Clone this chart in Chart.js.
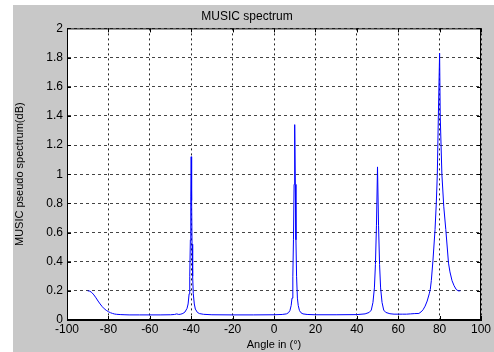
<!DOCTYPE html>
<html>
<head>
<meta charset="utf-8">
<script src="https://cdn.jsdelivr.net/npm/chart.js@4.4.0/dist/chart.umd.min.js"></script>
<style>
  html, body { margin: 0; padding: 0; background: #ffffff; }
  #wrap { position: absolute; left: 13px; top: 5px; width: 481px; height: 347px; background: #c8c8c8; }
</style>
</head>
<body>
<div id="wrap"><canvas id="c"></canvas></div>
<script>
Chart.defaults.font.family = "'Liberation Sans', Arial, sans-serif";
Chart.defaults.font.size = 11;
Chart.defaults.color = "#000";

// angle (deg) and pseudo spectrum
const angles = [
  -90, -89, -88, -87, -86, -85, -84, -83, -82, -81, -80, -79, -78, -77, -76, -74, -72, -70,
  -65, -60, -55, -50, -48, -47, -46, -45, -44, -43, -42, -41.5, -41, -40.7, -40.4, -40.2,
  -40, -39.8, -39.6, -39.3, -39, -38.5, -38, -37, -36, -34, -30, -20, -10, 0,
  4, 6, 7, 7.7, 8.3, 8.7, 9.1, 9.4, 9.7, 10, 10.3, 10.6, 10.9, 11.3, 11.7, 12.3, 13, 14, 16,
  20, 30, 40, 44, 46, 47, 47.8, 48.5, 49, 49.5, 50, 50.5, 51, 51.5, 52.2, 53, 54, 56, 58,
  60, 62, 64, 66, 68, 70, 71, 72, 73, 74, 75, 75.5, 76, 76.8, 77.8, 78.4, 78.9, 79.4, 80,
  80.3, 81.1, 82, 83, 84.3, 85, 86, 87, 88, 89, 90
];
const spectrum = [
  0.200, 0.198, 0.188, 0.172, 0.152, 0.130, 0.110, 0.092, 0.077, 0.066, 0.057, 0.050, 0.045, 0.041, 0.039, 0.037, 0.036, 0.035,
  0.035, 0.035, 0.035, 0.036, 0.038, 0.042, 0.038, 0.040, 0.045, 0.055, 0.080, 0.11, 0.18, 0.30, 0.55, 0.85,
  1.12, 0.82, 0.52, 0.30, 0.18, 0.11, 0.075, 0.052, 0.044, 0.039, 0.036, 0.035, 0.035, 0.036,
  0.038, 0.042, 0.050, 0.065, 0.10, 0.15, 0.30, 0.55, 0.93, 1.34, 0.93, 0.55, 0.30, 0.15, 0.10, 0.065, 0.050, 0.042, 0.038,
  0.036, 0.036, 0.037, 0.042, 0.052, 0.068, 0.12, 0.22, 0.38, 0.65, 1.05, 0.65, 0.38, 0.22, 0.12, 0.068, 0.052, 0.043, 0.040,
  0.040, 0.040, 0.040, 0.042, 0.044, 0.045, 0.055, 0.070, 0.095, 0.13, 0.18, 0.21, 0.27, 0.41, 0.62, 0.80, 1.00, 1.40, 1.83,
  1.40, 1.00, 0.78, 0.62, 0.39, 0.33, 0.27, 0.235, 0.21, 0.20, 0.20
];
const xTicks = [-100, 100, 20];
const yTicks = [0, 2, 0.2];

// white plot box, solid frame and MATLAB style inner ticks
const frame = {
  id: "frame",
  beforeDraw(chart) {
    const a = chart.chartArea, ctx = chart.ctx;
    ctx.save();
    ctx.fillStyle = "#fff";
    ctx.fillRect(a.left, a.top, a.right - a.left, a.bottom - a.top);
    ctx.restore();
  },
  afterDraw(chart) {
    const a = chart.chartArea, ctx = chart.ctx;
    const x = chart.scales.x, y = chart.scales.y;
    ctx.save();
    ctx.strokeStyle = "#000";
    ctx.lineWidth = 1;
    ctx.strokeRect(a.left + 0.5, a.top + 0.5, a.right - a.left - 1, a.bottom - a.top - 1);
    ctx.beginPath();
    x.ticks.forEach(t => {
      const px = Math.round(x.getPixelForValue(t.value)) + 0.5;
      ctx.moveTo(px, a.bottom); ctx.lineTo(px, a.bottom - 4);
      ctx.moveTo(px, a.top); ctx.lineTo(px, a.top + 4);
    });
    y.ticks.forEach(t => {
      const py = Math.round(y.getPixelForValue(t.value)) + 0.5;
      ctx.moveTo(a.left, py); ctx.lineTo(a.left + 4, py);
      ctx.moveTo(a.right, py); ctx.lineTo(a.right - 4, py);
    });
    ctx.stroke();
    ctx.restore();
  }
};

new Chart(document.getElementById("c"), {
  type: "line",
  data: {
    datasets: [{
      label: "MUSIC",
      data: angles.map((a, i) => ({ x: a, y: spectrum[i] })),
      borderColor: "#0000ff",
      borderWidth: 1,
      pointRadius: 0,
      tension: 0,
      fill: false,
    }],
  },
  options: {
    responsive: true,
    maintainAspectRatio: false,
    animation: false,
    layout: { padding: { left: 0, right: 13, top: 0, bottom: 0 } },
    plugins: {
      legend: { display: false },
      tooltip: { enabled: false },
      title: {
        display: true,
        text: "MUSIC spectrum",
        color: "#000",
        font: { size: 12, weight: "normal" },
        padding: { top: 4, bottom: 5 },
      },
    },
    scales: {
      x: {
        type: "linear",
        min: xTicks[0], max: xTicks[1],
        ticks: { stepSize: xTicks[2], color: "#000", padding: 2, maxRotation: 0, font: { size: 12 } },
        grid: { color: "#222", drawTicks: false },
        border: { color: "#000", dash: [2, 3] },
        title: { display: true, text: "Angle in (°)", color: "#000", font: { size: 11 }, padding: { top: 0, bottom: 0 } },
        afterFit(s) { s.height = 32; },
      },
      y: {
        min: yTicks[0], max: yTicks[1],
        ticks: {
          stepSize: yTicks[2], color: "#000", padding: 4, font: { size: 12 },
          callback: v => String(Math.round(v * 10) / 10),
        },
        grid: { color: "#444", drawTicks: false },
        border: { color: "#000", dash: [3, 3] },
        title: { display: true, text: "MUSIC pseudo spectrum(dB)", color: "#000", font: { size: 11 }, padding: { top: 0, bottom: 2 } },
        afterFit(s) { s.width = 54; },
      },
    },
  },
  plugins: [frame],
});
</script>
</body>
</html>
